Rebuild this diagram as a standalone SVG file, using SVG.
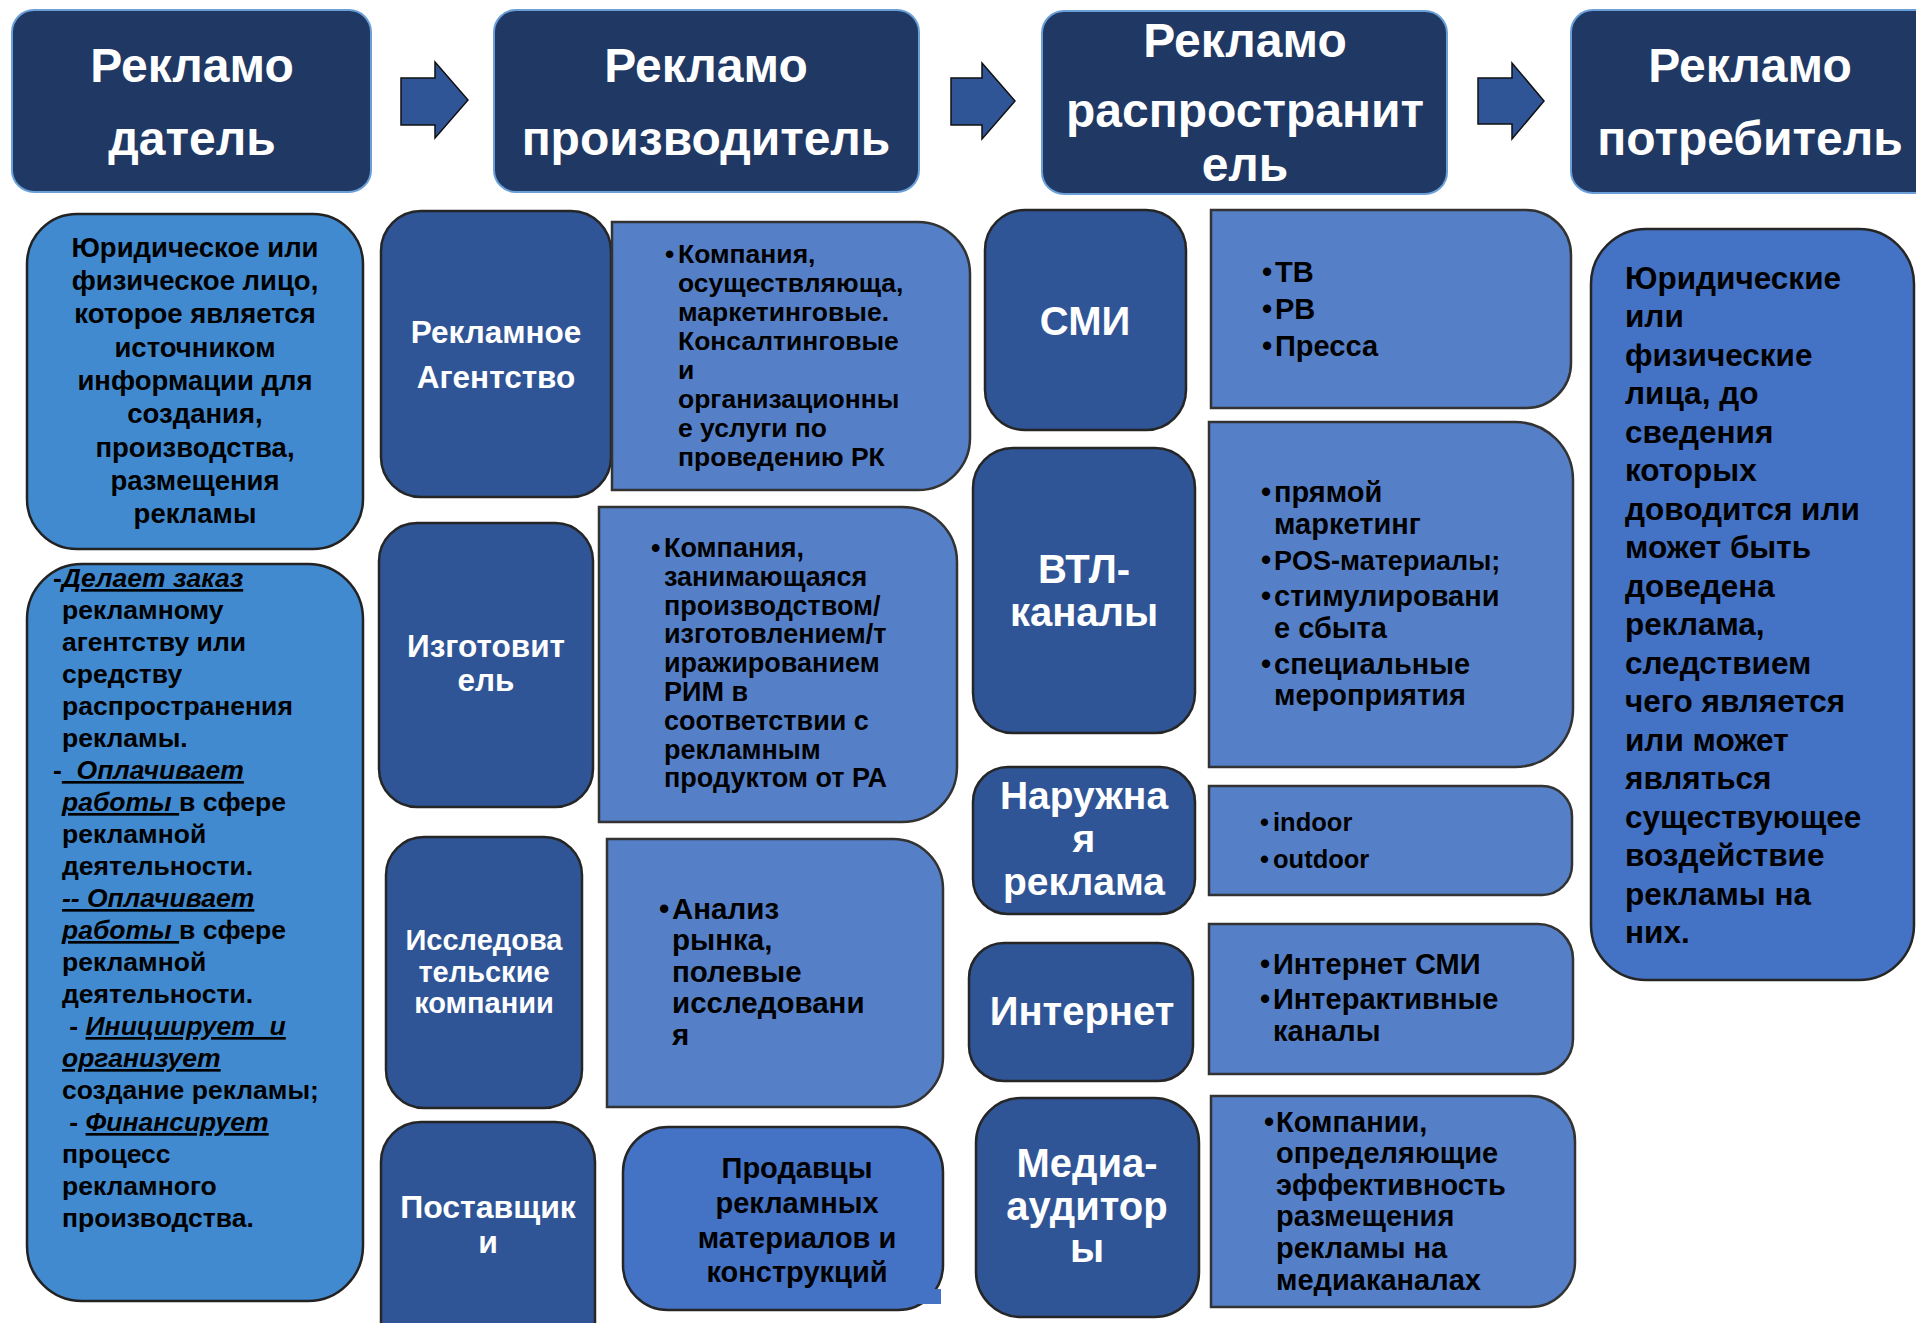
<svg xmlns="http://www.w3.org/2000/svg" width="1916" height="1323" viewBox="0 0 1916 1323">
<style>
.hdr{fill:#203864;stroke:#6A9FD8;stroke-width:2}
.dark{fill:#2F5597;stroke:#262626;stroke-width:2.5}
.desc{fill:#5580C8;stroke:#333;stroke-width:2.5}
.lb{fill:#418AD0;stroke:#222;stroke-width:2.5}
.acc{fill:#4472C4;stroke:#262626;stroke-width:2.5}
.arrow{fill:#2F5597;stroke:#111;stroke-width:1.5}
text{font-family:"Liberation Sans",Arial,sans-serif;font-weight:bold}
.w{fill:#fff}
.k{fill:#000}
.m{text-anchor:middle}
.h{font-size:48px}
.u{text-decoration:underline;font-style:italic}
.rb{font-family:"DejaVu Sans",Verdana,sans-serif;font-size:31.5px}
</style>

<g id="connectors">
<polygon class="arrow" points="401,78 435,78 435,62 468,100 435,138 435,125 401,125"/>
<polygon class="arrow" points="951,78 982,78 982,63 1015,101 982,139 982,125 951,125"/>
<polygon class="arrow" points="1478,78 1512,78 1512,63 1544,101 1512,139 1512,124 1478,124"/>
</g>

<g id="h-advertiser">
<rect class="hdr" x="12" y="10" width="359" height="182" rx="22"/>
<text class="w m h" x="192" y="82">Рекламо</text>
<text class="w m h" x="192" y="155">датель</text>
</g>
<g id="h-producer">
<rect class="hdr" x="494" y="10" width="425" height="182" rx="22"/>
<text class="w m h" x="706" y="82">Рекламо</text>
<text class="w m h" x="706" y="155">производитель</text>
</g>
<g id="h-distributor">
<rect class="hdr" x="1042" y="11" width="405" height="183" rx="22"/>
<text class="w m h" x="1245" y="57">Рекламо</text>
<text class="w m h" x="1245" y="127">распространит</text>
<text class="w m h" x="1245" y="181">ель</text>
</g>
<g id="h-consumer">
<rect class="hdr" x="1571" y="10" width="380" height="183" rx="22"/>
<text class="w m h" x="1750" y="82">Рекламо</text>
<text class="w m h" x="1750" y="155">потребитель</text>
</g>

<g id="advertiser-def">
<rect class="lb" x="27" y="214" width="336" height="335" rx="50"/>
<g class="k m" style="font-size:27.5px">
<text x="195" y="257">Юридическое или</text>
<text x="195" y="290">физическое лицо,</text>
<text x="195" y="323">которое является</text>
<text x="195" y="357">источником</text>
<text x="195" y="390">информации для</text>
<text x="195" y="423">создания,</text>
<text x="195" y="457">производства,</text>
<text x="195" y="490">размещения</text>
<text x="195" y="523">рекламы</text>
</g>
</g>

<g id="advertiser-roles">
<rect class="lb" x="27" y="564" width="336" height="737" rx="55"/>
<g class="k" style="font-size:26.5px">
<text x="53" y="587">-<tspan class="u">Делает заказ</tspan></text>
<text x="62" y="619">рекламному</text>
<text x="62" y="651">агентству или</text>
<text x="62" y="683">средству</text>
<text x="62" y="715">распространения</text>
<text x="62" y="747">рекламы.</text>
<text x="53" y="779">-<tspan class="u">&#160;&#160;Оплачивает</tspan></text>
<text x="62" y="811"><tspan class="u">работы&#160;</tspan>в сфере</text>
<text x="62" y="843">рекламной</text>
<text x="62" y="875">деятельности.</text>
<text x="62" y="907"><tspan class="u">-- Оплачивает</tspan></text>
<text x="62" y="939"><tspan class="u">работы&#160;</tspan>в сфере</text>
<text x="62" y="971">рекламной</text>
<text x="62" y="1003">деятельности.</text>
<text x="62" y="1035">&#160;- <tspan class="u">Инициирует&#160;&#160;и</tspan></text>
<text x="62" y="1067"><tspan class="u">организует</tspan></text>
<text x="62" y="1099">создание рекламы;</text>
<text x="62" y="1131">&#160;- <tspan class="u">Финансирует</tspan></text>
<text x="62" y="1163">процесс</text>
<text x="62" y="1195">рекламного</text>
<text x="62" y="1227">производства.</text>
</g>
</g>

<g id="agency">
<rect class="dark" x="381" y="211" width="230" height="286" rx="40"/>
<text class="w m" style="font-size:31.5px" x="496" y="343">Рекламное</text>
<text class="w m" style="font-size:31.5px" x="496" y="388">Агентство</text>
</g>
<g id="agency-desc">
<path class="desc" d="M612,222 H918 A52,52 0 0 1 970,274 V438 A52,52 0 0 1 918,490 H612 Z"/>
<g class="k" style="font-size:26.5px">
<text y="263"><tspan x="665">•</tspan><tspan x="678">Компания,</tspan></text>
<text x="678" y="292">осуществляюща,</text>
<text x="678" y="321">маркетинговые.</text>
<text x="678" y="350">Консалтинговые</text>
<text x="678" y="379">и</text>
<text x="678" y="408">организационны</text>
<text x="678" y="437">е услуги по</text>
<text x="678" y="466">проведению РК</text>
</g>
</g>

<g id="manufacturer">
<rect class="dark" x="379" y="523" width="214" height="284" rx="38"/>
<text class="w m" style="font-size:31.5px" x="486" y="657">Изготовит</text>
<text class="w m" style="font-size:31.5px" x="486" y="691">ель</text>
</g>
<g id="manufacturer-desc">
<path class="desc" d="M599,507 H902 A55,55 0 0 1 957,562 V767 A55,55 0 0 1 902,822 H599 Z"/>
<g class="k" style="font-size:27px">
<text y="557"><tspan x="651">•</tspan><tspan x="664">Компания,</tspan></text>
<text x="664" y="586">занимающаяся</text>
<text x="664" y="615">производством/</text>
<text x="664" y="643">изготовлением/т</text>
<text x="664" y="672">иражированием</text>
<text x="664" y="701">РИМ в</text>
<text x="664" y="730">соответствии с</text>
<text x="664" y="759">рекламным</text>
<text x="664" y="787">продуктом от РА</text>
</g>
</g>

<g id="research">
<rect class="dark" x="386" y="837" width="196" height="271" rx="38"/>
<text class="w m" style="font-size:29px" x="484" y="950">Исследова</text>
<text class="w m" style="font-size:29px" x="484" y="982">тельские</text>
<text class="w m" style="font-size:29px" x="484" y="1013">компании</text>
</g>
<g id="research-desc">
<path class="desc" d="M607,839 H893 A50,50 0 0 1 943,889 V1057 A50,50 0 0 1 893,1107 H607 Z"/>
<g class="k" style="font-size:29.5px">
<text y="919"><tspan x="659">•</tspan><tspan x="672">Анализ</tspan></text>
<text x="672" y="950">рынка,</text>
<text x="672" y="982">полевые</text>
<text x="672" y="1013">исследовани</text>
<text x="672" y="1045">я</text>
</g>
</g>

<g id="suppliers">
<rect class="dark" x="381" y="1122" width="214" height="260" rx="40"/>
<text class="w m" style="font-size:32px" x="488" y="1218">Поставщик</text>
<text class="w m" style="font-size:32px" x="488" y="1253">и</text>
</g>
<g id="suppliers-desc">
<rect class="acc" x="623" y="1127" width="320" height="183" rx="45"/>
<rect x="912" y="1289" width="29" height="15" fill="#4472C4"/>
<g class="k m" style="font-size:29px">
<text x="797" y="1178">Продавцы</text>
<text x="797" y="1213">рекламных</text>
<text x="797" y="1248">материалов и</text>
<text x="797" y="1282">конструкций</text>
</g>
</g>

<g id="media">
<rect class="dark" x="985" y="210" width="201" height="220" rx="40"/>
<text class="w m" style="font-size:40px" x="1085" y="335">СМИ</text>
</g>
<g id="media-desc">
<path class="desc" d="M1211,210 H1526 A45,45 0 0 1 1571,255 V363 A45,45 0 0 1 1526,408 H1211 Z"/>
<g class="k" style="font-size:29px">
<text y="282"><tspan x="1262">•</tspan><tspan x="1275">ТВ</tspan></text>
<text y="319"><tspan x="1262">•</tspan><tspan x="1275">РВ</tspan></text>
<text y="356"><tspan x="1262">•</tspan><tspan x="1275">Пресса</tspan></text>
</g>
</g>

<g id="btl">
<rect class="dark" x="973" y="448" width="222" height="285" rx="40"/>
<text class="w m" style="font-size:40px" x="1084" y="583">ВТЛ-</text>
<text class="w m" style="font-size:40px" x="1084" y="626">каналы</text>
</g>
<g id="btl-desc">
<path class="desc" d="M1209,422 H1515 A58,58 0 0 1 1573,480 V709 A58,58 0 0 1 1515,767 H1209 Z"/>
<g class="k" style="font-size:29px">
<text y="502"><tspan x="1261">•</tspan><tspan x="1274">прямой</tspan></text>
<text x="1274" y="534">маркетинг</text>
<text y="570"><tspan x="1261">•</tspan><tspan x="1274" style="font-size:27px">POS-материалы;</tspan></text>
<text y="606"><tspan x="1261">•</tspan><tspan x="1274">стимулировани</tspan></text>
<text x="1274" y="638">е сбыта</text>
<text y="674"><tspan x="1261">•</tspan><tspan x="1274">специальные</tspan></text>
<text x="1274" y="705">мероприятия</text>
</g>
</g>

<g id="outdoor">
<rect class="dark" x="973" y="767" width="222" height="147" rx="35"/>
<text class="w m" style="font-size:39px" x="1084" y="809">Наружна</text>
<text class="w m" style="font-size:39px" x="1084" y="852">я</text>
<text class="w m" style="font-size:39px" x="1084" y="895">реклама</text>
</g>
<g id="outdoor-desc">
<path class="desc" d="M1209,786 H1542 A30,30 0 0 1 1572,816 V865 A30,30 0 0 1 1542,895 H1209 Z"/>
<g class="k" style="font-size:25.5px">
<text y="831"><tspan x="1260">•</tspan><tspan x="1273">indoor</tspan></text>
<text y="868"><tspan x="1260">•</tspan><tspan x="1273">outdoor</tspan></text>
</g>
</g>

<g id="internet">
<rect class="dark" x="969" y="943" width="224" height="138" rx="35"/>
<text class="w m" style="font-size:40px" x="1082" y="1025">Интернет</text>
</g>
<g id="internet-desc">
<path class="desc" d="M1209,924 H1538 A35,35 0 0 1 1573,959 V1039 A35,35 0 0 1 1538,1074 H1209 Z"/>
<g class="k" style="font-size:29px">
<text y="974"><tspan x="1260">•</tspan><tspan x="1273">Интернет СМИ</tspan></text>
<text y="1009"><tspan x="1260">•</tspan><tspan x="1273">Интерактивные</tspan></text>
<text x="1273" y="1041">каналы</text>
</g>
</g>

<g id="media-auditors">
<rect class="dark" x="976" y="1098" width="223" height="219" rx="45"/>
<text class="w m" style="font-size:40px" x="1087" y="1177">Медиа-</text>
<text class="w m" style="font-size:40px" x="1087" y="1220">аудитор</text>
<text class="w m" style="font-size:40px" x="1087" y="1262">ы</text>
</g>
<g id="media-auditors-desc">
<path class="desc" d="M1211,1096 H1530 A45,45 0 0 1 1575,1141 V1262 A45,45 0 0 1 1530,1307 H1211 Z"/>
<g class="k" style="font-size:29px">
<text y="1132"><tspan x="1264">•</tspan><tspan x="1276">Компании,</tspan></text>
<text x="1276" y="1163">определяющие</text>
<text x="1276" y="1195">эффективность</text>
<text x="1276" y="1226">размещения</text>
<text x="1276" y="1258">рекламы на</text>
<text x="1276" y="1290">медиаканалах</text>
</g>
</g>

<g id="consumer-def">
<rect class="acc" x="1591" y="229" width="323" height="751" rx="55"/>
<g class="k rb">
<text x="1625" y="289">Юридические</text>
<text x="1625" y="327">или</text>
<text x="1625" y="366">физические</text>
<text x="1625" y="404">лица, до</text>
<text x="1625" y="443">сведения</text>
<text x="1625" y="481">которых</text>
<text x="1625" y="520">доводится или</text>
<text x="1625" y="558">может быть</text>
<text x="1625" y="597">доведена</text>
<text x="1625" y="635">реклама,</text>
<text x="1625" y="674">следствием</text>
<text x="1625" y="712">чего является</text>
<text x="1625" y="751">или может</text>
<text x="1625" y="789">являться</text>
<text x="1625" y="828">существующее</text>
<text x="1625" y="866">воздействие</text>
<text x="1625" y="905">рекламы на</text>
<text x="1625" y="943">них.</text>
</g>
</g>
</svg>
